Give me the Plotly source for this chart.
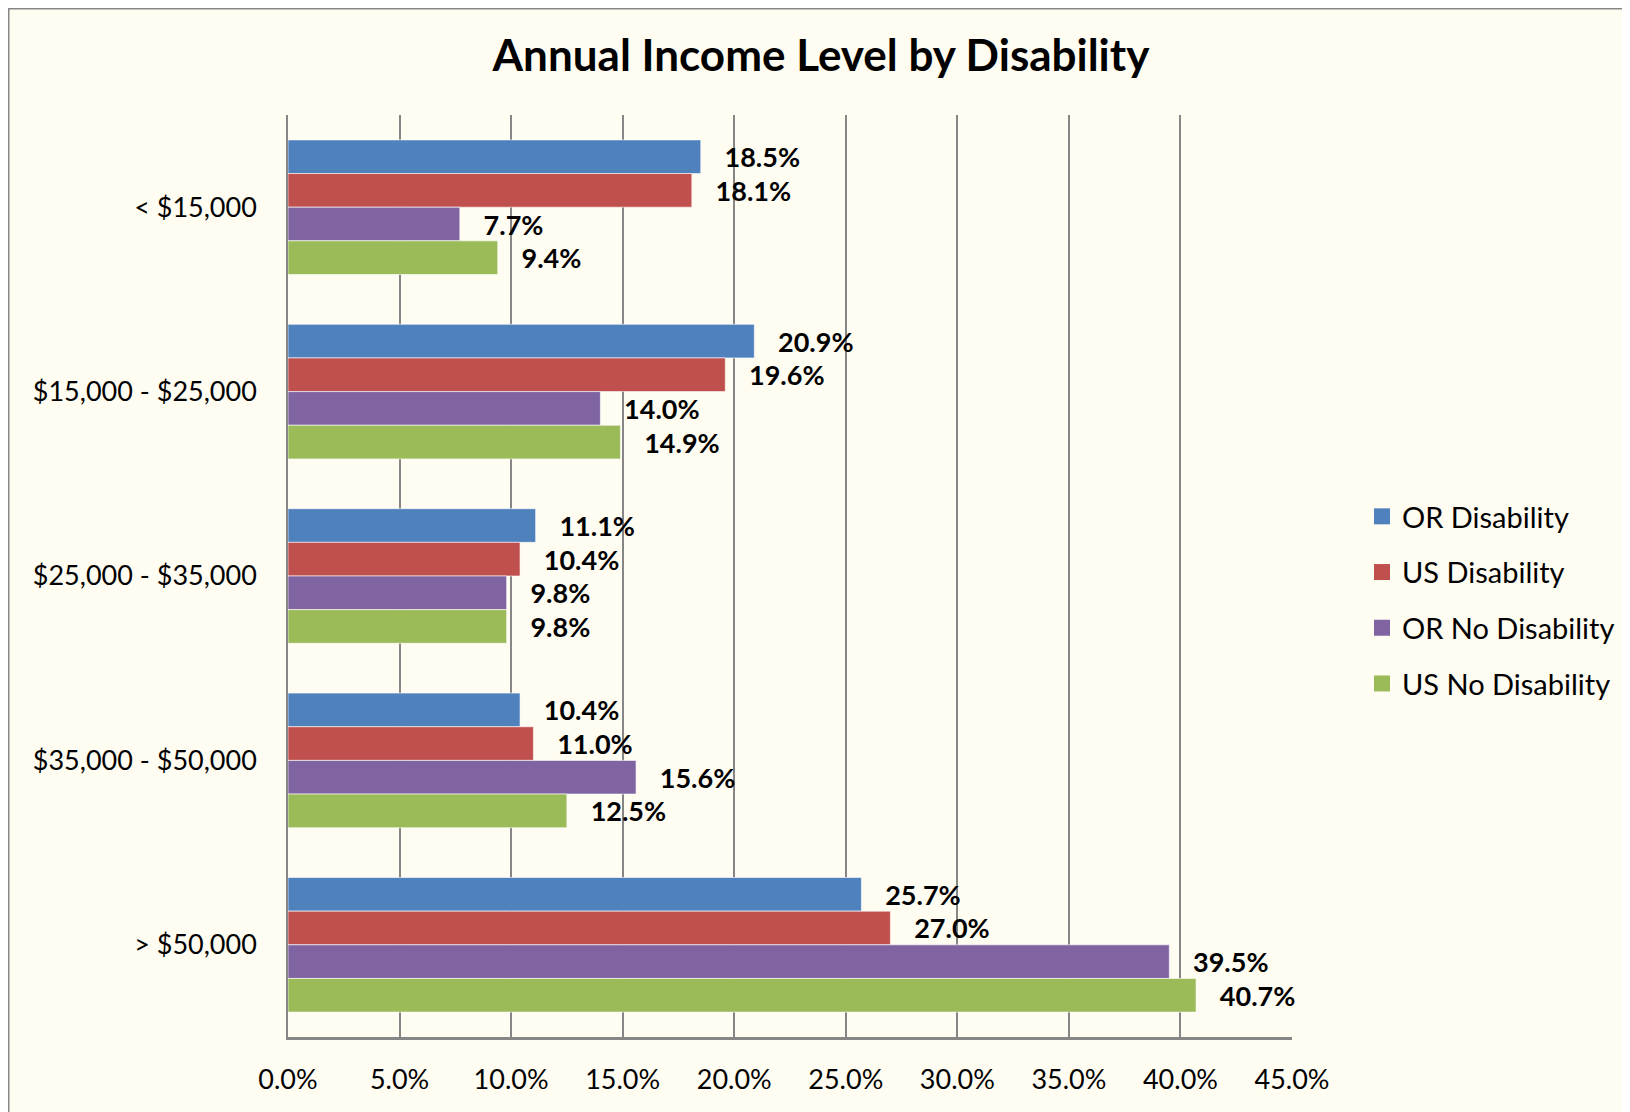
import plotly.graph_objects as go

categories = ["< $15,000", "$15,000 - $25,000", "$25,000 - $35,000", "$35,000 - $50,000", "> $50,000"]
series_names = ["OR Disability", "US Disability", "OR No Disability", "US No Disability"]
or_disability = [18.5, 20.9, 11.1, 10.4, 25.7]
us_disability = [18.1, 19.6, 10.4, 11.0, 27.0]
or_no_disability = [7.7, 14.0, 9.8, 15.6, 39.5]
us_no_disability = [9.4, 14.9, 9.8, 12.5, 40.7]
colors = ["#4F81BD", "#C0504D", "#8064A2", "#9BBB59"]
tick_vals = [0, 5, 10, 15, 20, 25, 30, 35, 40, 45]

values = [or_disability, us_disability, or_no_disability, us_no_disability]
FONT = "Lato"
BG = "#FFFCF1"

L, R, T, B = 280, 346, 107, 83
W, H = 1630, 1112
PW, PH = W - L - R, H - T - B

fig = go.Figure()
for name, vals, col in zip(series_names, values, colors):
    fig.add_trace(go.Bar(
        y=categories, x=vals, name=name, orientation="h",
        marker=dict(color=col, line=dict(color="rgba(255,255,255,0.6)", width=1)),
        text=vals, texttemplate="   <b>%{x:.1f}%</b>", textposition="outside",
        textfont=dict(family=FONT, size=27, color="black"),
        cliponaxis=False, showlegend=False,
    ))
# legend entries with larger square swatches
for i, (name, col) in enumerate(zip(series_names, colors)):
    fig.add_trace(go.Scatter(
        x=[None], y=[None], mode="markers", name=name, legendgroup=f"g{i}",
        marker=dict(symbol="square", size=20, color=col), showlegend=True,
    ))

fig.update_layout(
    width=W, height=H,
    paper_bgcolor=BG, plot_bgcolor=BG,
    barmode="group", bargap=0.27, bargroupgap=0,
    margin=dict(l=L, r=R, t=T, b=B),
    title=dict(text="<b>Annual Income Level by Disability</b>", x=(821 - 8) / W, xanchor="center",
               y=1 - (56 - 8) / H, yanchor="middle", font=dict(family=FONT, size=44, color="black")),
    font=dict(family=FONT, size=27, color="black"),
    legend=dict(x=(1362 - 8 - L) / PW, xanchor="left", y=1 - (600 - 8 - T) / PH, yanchor="middle",
                traceorder="grouped", font=dict(family=FONT, size=29),
                itemsizing="trace", tracegroupgap=15, itemwidth=30,
                bgcolor="rgba(0,0,0,0)"),
    showlegend=True,
)
fig.update_xaxes(range=[0, 45], tickvals=tick_vals, ticktext=[f"{v:.1f}%" for v in tick_vals],
                 showgrid=True, gridcolor="#868686", gridwidth=1.5, zeroline=False,
                 showline=True, linecolor="#868686", linewidth=3, mirror=False,
                 ticks="", ticklabelstandoff=17, tickfont=dict(family=FONT, size=27))
fig.update_yaxes(autorange="reversed", showline=True, linecolor="#868686", linewidth=1.5,
                 ticks="", ticklabelstandoff=24, tickfont=dict(family=FONT, size=27))

# outer chart border (left and top visible)
fig.add_shape(type="line", xref="paper", yref="paper", x0=-L / PW, x1=-L / PW,
              y0=-B / PH, y1=(PH + T) / PH, line=dict(color="#868686", width=3))
fig.add_shape(type="line", xref="paper", yref="paper", x0=-L / PW, x1=(PW + R) / PW,
              y0=(PH + T) / PH, y1=(PH + T) / PH, line=dict(color="#868686", width=3))

fig.write_html("out.html")
